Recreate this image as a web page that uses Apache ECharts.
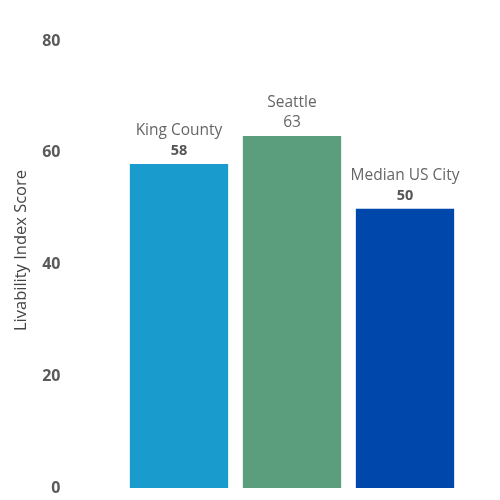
<!DOCTYPE html>
<html><head><meta charset="utf-8">
<script src="https://cdn.jsdelivr.net/npm/echarts@6/dist/echarts.min.js"></script>
<style>html,body{margin:0;padding:0;background:#fff}#c{width:500px;height:500px}</style>
</head><body><div id="c"></div>
<script>
const categories = ["King County", "Seattle", "Median US City"];
const values = [58, 63, 50];
const colors = ["#1a9bce", "#5b9e7e", "#0047ab"];
const boldValue = [true, false, true];
const yTicks = [0, 20, 40, 60, 80];

const chart = echarts.init(document.getElementById('c'));
chart.setOption({
  animation: false,
  grid: { left: 122.5, right: 38.5, top: 41, bottom: 12 },
  xAxis: {
    type: 'category', data: categories,
    axisLine: { show: false }, axisTick: { show: false }, axisLabel: { show: false }
  },
  yAxis: {
    type: 'value', min: yTicks[0], max: yTicks[yTicks.length - 1], interval: 20,
    name: 'Livability Index Score', nameLocation: 'middle', nameGap: 93, nameRotate: 90,
    nameTextStyle: { fontFamily: 'Open Sans', fontSize: 16.5, color: '#444', padding: [0, 0, 0, 28] },
    axisLine: { show: false }, axisTick: { show: false }, splitLine: { show: false },
    axisLabel: { margin: 62, fontFamily: 'Open Sans', fontWeight: 'bold', fontSize: 16, color: '#5a5a5a' }
  },
  series: [{
    type: 'bar',
    barCategoryGap: '13%',
    data: values.map((v, i) => ({ value: v, itemStyle: { color: colors[i] } })),
    label: {
      show: true, position: 'top', distance: 3,
      fontFamily: 'Open Sans',
      formatter: p => '{n|' + categories[p.dataIndex] + '}\n{' + (boldValue[p.dataIndex] ? 'b' : 'v') + '|' + p.value + '}',
      rich: {
        n: { fontFamily: 'Open Sans', fontSize: 15.5, color: '#666', lineHeight: 20 },
        b: { fontFamily: 'Open Sans', fontSize: 14.5, fontWeight: 'bold', color: '#555', lineHeight: 20 },
        v: { fontFamily: 'Open Sans', fontSize: 15.5, color: '#666', lineHeight: 20 }
      }
    }
  }]
});
</script></body></html>
